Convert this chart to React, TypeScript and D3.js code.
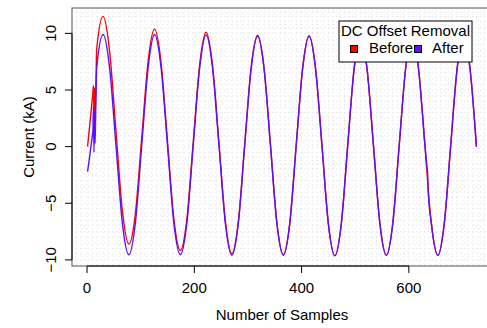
import React from 'react';
import * as d3 from 'd3';

// Sample index (x) shared by both series
const samples = [
  1, 4, 7, 10, 11, 12, 13, 14, 15, 16, 17, 18,
  30, 42, 54, 66, 78, 90, 102, 114, 126, 138, 150, 162, 174, 186, 198, 210,
  222, 234, 246, 258, 270, 282, 294, 306, 318, 330, 342, 354, 366, 378, 390,
  402, 414, 426, 438, 450, 462, 474, 486, 498, 510, 522, 534, 546, 558, 570,
  582, 594, 606, 618, 630, 634, 635, 636, 642, 654, 666, 678, 690, 702, 714, 726,
];

// Current (kA) before DC offset removal
const before = [
  0.0, 1.4, 2.8, 4.3, 4.8, 5.4, 2.6, 5.2, 3.0, 4.6, 6.6, 8.6,
  11.5, 8.45, 1.35, -5.7, -8.6, -6.0, 0.78, 7.56, 10.38, 7.43, 0.5, -6.42, -9.17, -6.47, 0.4, 7.22,
  10.1, 7.17, 0.3, -6.62, -9.45, -6.67, 0.22, 7.0, 9.83, 6.98, 0.17, -6.74, -9.54, -6.75, 0.14,
  6.94, 9.79, 6.93, 0.12, -6.82, -9.62, -6.83, 0.11, 6.91, 9.76, 6.91, 0.11, -6.79, -9.59, -6.79,
  0.1, 6.9, 9.75, 6.9, 0.1, -2.4, -3.05, -3.7, -6.8, -9.6, -6.8, 0.1, 6.9, 9.75, 6.9, 0.0,
];

// Current (kA) after DC offset removal
const after = [
  -2.2, -1.2, -0.1, 1.0, 1.4, 3.5, -0.5, 3.2, 0.3, 2.6, 4.8, 6.9,
  9.9, 7.0, 0.1, -6.8, -9.55, -6.8, 0.1, 7.0, 9.9, 7.0, 0.1, -6.8, -9.55, -6.8, 0.1, 6.95,
  9.85, 6.95, 0.1, -6.8, -9.6, -6.8, 0.1, 6.9, 9.75, 6.9, 0.1, -6.8, -9.6, -6.8, 0.1,
  6.9, 9.75, 6.9, 0.1, -6.85, -9.65, -6.85, 0.1, 6.9, 9.75, 6.9, 0.1, -6.8, -9.6, -6.8,
  0.1, 6.9, 9.75, 6.9, 0.1, -1.9, -2.4, -3.9, -6.8, -9.6, -6.8, 0.1, 6.9, 9.75, 6.9, 0.0,
];

const xTicks = [0, 200, 400, 600];
const yTicks = [-10, -5, 0, 5, 10];
const seriesNames = ['Before', 'After'];
const seriesColors = ['#ff0000', '#5a0fff'];
const legendTitle = 'DC Offset Removal';
const xLabel = 'Number of Samples';
const yLabel = 'Current (kA)';

const FONT = "'Liberation Sans', Arial, Helvetica, sans-serif";

export default function App() {
  const W = 487;
  const H = 328;
  const left = 72;
  const right = 492;
  const top = 8;
  const bottom = 266;

  const x = d3.scaleLinear().domain([-28, 755]).range([left, right]);
  const y = d3.scaleLinear().domain([-10.54, 12.24]).range([bottom, top]);

  const line = d3
    .line<number>()
    .x((_, i) => x(samples[i]))
    .y((d) => y(d))
    .curve(d3.curveMonotoneX);

  const xGrid = d3.range(-20, 760, 10);
  const yGrid = d3.range(-10.5, 12.3, 0.5);
  const fmt = (v: number) => (v < 0 ? '\u2212' + Math.abs(v) : String(v));

  const lx = 339;
  const ly = 21;

  return (
    <svg
      width={W}
      height={H}
      style={{ position: 'absolute', left: 0, top: 0, background: '#fff' }}
      fontFamily={FONT}
    >
      <rect x={0} y={0} width={W} height={H} fill="#fff" />
      {/* grid */}
      <g stroke="#e2e2e2" strokeWidth={1} strokeDasharray="1,3">
        {xGrid.map((g) => (
          <line key={'gx' + g} x1={x(g)} x2={x(g)} y1={top} y2={bottom} />
        ))}
        {yGrid.map((g) => (
          <line key={'gy' + g} x1={left} x2={right} y1={y(g)} y2={y(g)} />
        ))}
      </g>
      {/* series */}
      <path d={line(before) || ''} fill="none" stroke={seriesColors[0]} strokeWidth={1.4} />
      <path d={line(after) || ''} fill="none" stroke={seriesColors[1]} strokeWidth={1.4} />
      {/* box */}
      <rect x={left} y={top} width={right - left} height={bottom - top} fill="none" stroke="#555" strokeWidth={1} />
      {/* x axis */}
      <g>
        <line x1={x(xTicks[0])} x2={x(xTicks[xTicks.length - 1])} y1={bottom} y2={bottom} stroke="#000" />
        {xTicks.map((t) => (
          <g key={'xt' + t}>
            <line x1={x(t)} x2={x(t)} y1={bottom} y2={bottom + 7} stroke="#000" />
            <text x={x(t)} y={293} textAnchor="middle" fontSize={15} fill="#000">
              {fmt(t)}
            </text>
          </g>
        ))}
        <text x={(left + right) / 2} y={320} textAnchor="middle" fontSize={15} fill="#000">
          {xLabel}
        </text>
      </g>
      {/* y axis */}
      <g>
        <line x1={left} x2={left} y1={y(yTicks[0])} y2={y(yTicks[yTicks.length - 1])} stroke="#000" />
        {yTicks.map((t) => (
          <g key={'yt' + t}>
            <line x1={left - 7} x2={left} y1={y(t)} y2={y(t)} stroke="#000" />
            <text
              transform={`translate(56,${y(t)}) rotate(-90)`}
              textAnchor="middle"
              fontSize={15}
              fill="#000"
            >
              {fmt(t)}
            </text>
          </g>
        ))}
        <text
          transform={`translate(34,${(top + bottom) / 2}) rotate(-90)`}
          textAnchor="middle"
          fontSize={15}
          fill="#000"
        >
          {yLabel}
        </text>
      </g>
      {/* legend */}
      <g>
        <rect x={lx} y={ly} width={133} height={41} fill="#fff" stroke="#000" strokeWidth={1} />
        <text x={lx + 66.5} y={ly + 15} textAnchor="middle" fontSize={15} fill="#000">
          {legendTitle}
        </text>
        <rect x={350.5} y={45.5} width={7} height={7} fill={seriesColors[0]} stroke="#000" />
        <text x={369} y={53} fontSize={15} fill="#000">
          {seriesNames[0]}
        </text>
        <rect x={414.5} y={45.5} width={7} height={7} fill={seriesColors[1]} stroke="#000" />
        <text x={432} y={53} fontSize={15} fill="#000">
          {seriesNames[1]}
        </text>
      </g>
    </svg>
  );
}
